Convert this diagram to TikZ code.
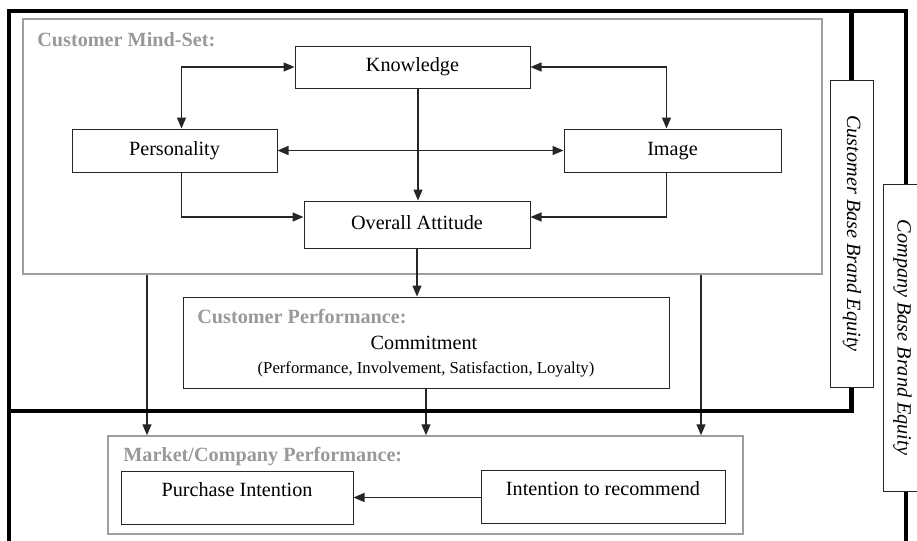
\documentclass[tikz,border=0pt]{standalone}
\usepackage{fontspec}
\setmainfont{Liberation Serif}
\usetikzlibrary{arrows.meta, calc}
\definecolor{HeadGray}{rgb}{0.6, 0.6, 0.6}
\definecolor{FrameGray}{rgb}{0.62, 0.62, 0.62}
\definecolor{LineDark}{rgb}{0.15, 0.15, 0.15}

\begin{document}
\begin{tikzpicture}[x=0.5pt, y=-0.5pt, font=\fontsize{10.1}{12}\selectfont,
  box/.style 2 args={draw=LineDark, line width=0.5pt, minimum width=#1, minimum height=#2,
      inner sep=0pt, text height=0.7em, text depth=0.25em},
  groupbox/.style 2 args={draw=FrameGray, line width=0.75pt, minimum width=#1, minimum height=#2, inner sep=0pt},
  sidebox/.style 2 args={box={#1}{#2}, rotate=-90, font=\fontsize{10.1}{12}\selectfont\itshape},
  grouptitle/.style={text=HeadGray, font=\fontsize{10.1}{12}\selectfont\bfseries, inner sep=0pt, anchor=base west},
  link/.style={draw=LineDark, line width=0.7pt, -{Triangle[length=5.5pt, width=4.5pt]}},
  twoway/.style={link, {Triangle[length=5.5pt, width=4.5pt]}-{Triangle[length=5.5pt, width=4.5pt]}},
  thickline/.style={line width=2.2pt, black}]

\useasboundingbox (0,0) rectangle (917,541);
\clip (0,0) rectangle (917,541);

% ================= CUSTOMER MIND-SET =================
\node[groupbox={399.5pt}{127.5pt}] (mind) at (422.5,146.5) {};
\node[grouptitle] (mindtitle) at (37,46) {Customer Mind-Set:};
\node[box={117.5pt}{21pt}] (know) at (412.5,67) {Knowledge};
\node[box={102.5pt}{21.5pt}] (pers) at (174.5,150.5) {Personality};
\node[box={108.5pt}{21.5pt}] (image) at (672.5,150.5) {Image};
\node[box={113pt}{23.5pt}] (att) at (417,224.5) {Overall Attitude};

\draw[twoway] (know.west) -| ([xshift=3.5pt]pers.north);
\draw[twoway] (know.east) -| ([xshift=-3pt]image.north);
\draw[twoway] (pers.east) -- (image.west);
\draw[link] ([xshift=0.5pt]att.north |- know.south) -- ([xshift=0.5pt]att.north);
\draw[link] ([xshift=3.5pt]pers.south) |- ([yshift=3.75pt]att.west);
\draw[link] ([xshift=-3pt]image.south) |- ([yshift=3.75pt]att.east);

% ================= CUSTOMER PERFORMANCE =================
\node[box={243pt}{45.5pt}] (cperf) at (426,342.5) {};
\node[grouptitle] (cperftitle) at (197,323) {Customer Performance:};
\node[anchor=base, inner sep=0pt] (commit) at (424,349) {Commitment};
\node[anchor=base, inner sep=0pt, font=\fontsize{8.35}{10}\selectfont] (commitsub) at (426,373)
    {(Performance, Involvement, Satisfaction, Loyalty)};
\draw[link] (att.south) -- (att.south |- cperf.north);

% ================= MARKET/COMPANY PERFORMANCE =================
\node[groupbox={317.5pt}{49pt}] (market) at (425.5,485) {};
\node[grouptitle] (markettitle) at (123,461) {Market/Company Performance:};
\node[box={116pt}{26.5pt}, text depth=0.8em] (purch) at (237,497.5) {Purchase Intention};
\node[box={122pt}{26.5pt}, text depth=0.8em] (recom) at (603,496.5) {Intention to recommend};
\draw[link] (purch.east -| recom.west) -- (purch.east);
\draw[link] (cperf.south) -- (cperf.south |- market.north);
\foreach \xx in {147,701} {
  \coordinate (drop\xx) at (\xx,0);
  \draw[link] (mind.south -| drop\xx) -- (market.north -| drop\xx);
}

% ================= BRAND EQUITY FRAMES =================
\node[sidebox={153.5pt}{21.5pt}] (cbbe) at (851.5,233.5) {Customer Base Brand Equity};
\node[sidebox={153.5pt}{19pt}] (cobe) at (902,337.5) {Company Base Brand Equity};

\coordinate (tl) at (9,11);
\coordinate (tr) at (906,11);
\coordinate (bl) at (9,541);
\coordinate (br) at (906,541);
\coordinate (ml) at (9,411);
\draw[thickline] (bl) -- (tl) -- (tr) -- (tr |- cobe.west);
\draw[thickline] (tr |- cobe.east) -- (br);
\draw[thickline] (cbbe.west |- tl) -- (cbbe.west);
\draw[thickline] (cbbe.east) |- (ml);

\end{tikzpicture}
\end{document}
